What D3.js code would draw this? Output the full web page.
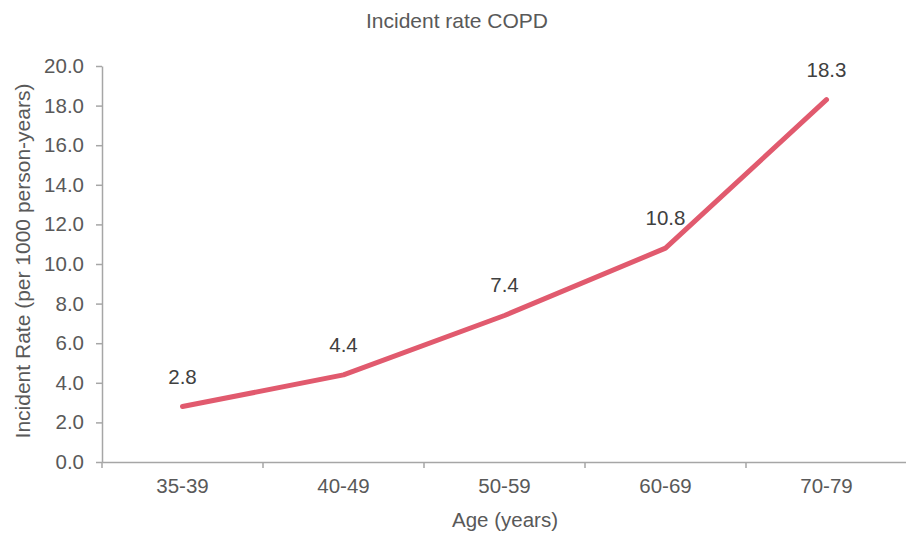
<!DOCTYPE html>
<html><head><meta charset="utf-8">
<script src="https://cdn.jsdelivr.net/npm/d3@7"></script>
<style>body{margin:0;background:#fff}svg{display:block}text{font-family:"Liberation Sans",Arial,sans-serif}</style>
</head><body>
<svg id="c" width="906" height="533"></svg>
<script>
const categories = ["35-39","40-49","50-59","60-69","70-79"];
const values = [2.8, 4.4, 7.4, 10.8, 18.3];
const yTicks = [0,2,4,6,8,10,12,14,16,18,20];
const title = "Incident rate COPD";
const xTitle = "Age (years)";
const yTitle = "Incident Rate (per 1000 person-years)";

(function(){
const svg = d3.select("#c");
const mL = 102, mR = 907, mT = 66, mB = 462;
const x = d3.scaleBand().domain(categories).range([mL, mR]);
const y = d3.scaleLinear().domain([0, 20]).range([mB, mT]);
const axisColor = "#a6a6a6", textColor = "#595959";
const fs = 20.5;

// Y axis
const ya = svg.append("g").attr("transform", `translate(${mL},0)`)
  .call(d3.axisLeft(y).tickValues(yTicks).tickFormat(d3.format(".1f")).tickSize(6).tickSizeOuter(0));
ya.attr("font-family", null);
ya.select(".domain").attr("stroke", axisColor).attr("stroke-width", 1.5);
ya.selectAll(".tick line").attr("stroke", axisColor).attr("stroke-width", 1.5);
ya.selectAll(".tick text").attr("fill", textColor).attr("font-size", fs).attr("x", -18);

// X axis
const xa = svg.append("g").attr("transform", `translate(0,${mB})`)
  .call(d3.axisBottom(x).tickSize(0).tickSizeOuter(0));
xa.attr("font-family", null);
xa.select(".domain").attr("stroke", axisColor).attr("stroke-width", 1.5);
xa.selectAll(".tick text").attr("fill", textColor).attr("font-size", fs).attr("dy", "0.71em").attr("y", 16);
const bounds = categories.map(c => x(c)).concat([mR]);
xa.selectAll("line.b").data(bounds).enter().append("line").attr("class","b")
  .attr("x1", d => d).attr("x2", d => d).attr("y1", 0).attr("y2", 6)
  .attr("stroke", axisColor).attr("stroke-width", 1.5);

// Line
const line = d3.line().x((d,i) => x(categories[i]) + x.bandwidth()/2).y(d => y(d));
svg.append("path").datum(values).attr("d", line)
  .attr("fill", "none").attr("stroke", "#e15a6e").attr("stroke-width", 5)
  .attr("stroke-linecap", "round").attr("stroke-linejoin", "round");

// Labels
svg.selectAll("text.lbl").data(values).enter().append("text").attr("class","lbl")
  .attr("x", (d,i) => x(categories[i]) + x.bandwidth()/2)
  .attr("y", d => y(d) - 23)
  .attr("text-anchor", "middle").attr("fill", "#404040").attr("font-size", fs)
  .text(d => d3.format(".1f")(d));

// Titles
svg.append("text").attr("x", 457).attr("y", 28).attr("text-anchor","middle")
  .attr("fill", textColor).attr("font-size", 21).text(title);
svg.append("text").attr("x", 505).attr("y", 527).attr("text-anchor","middle")
  .attr("fill", textColor).attr("font-size", 20.5).text(xTitle);
svg.append("text").attr("transform", "translate(30,261) rotate(-90)").attr("text-anchor","middle")
  .attr("fill", textColor).attr("font-size", 21).text(yTitle);
})();
</script>
</body></html>
